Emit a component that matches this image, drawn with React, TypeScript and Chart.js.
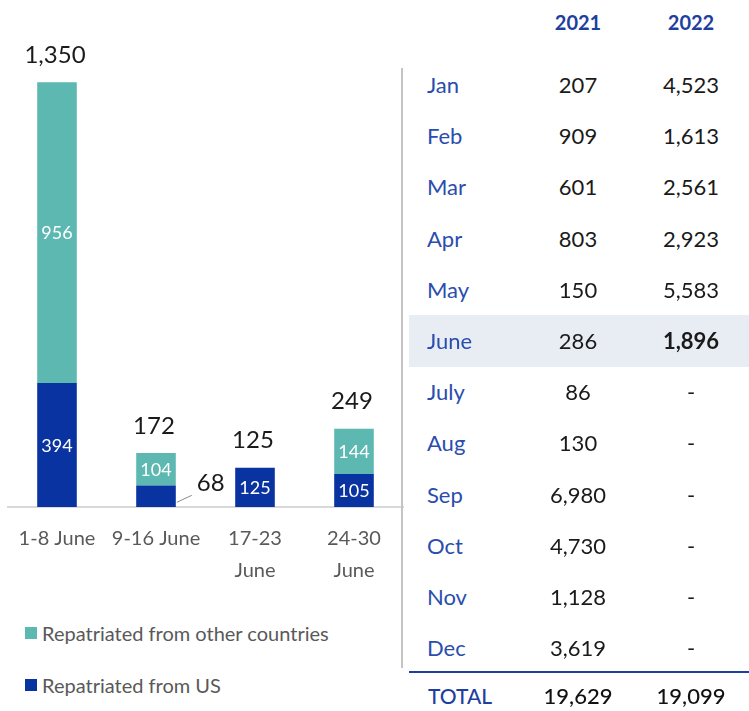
import React, { useEffect, useRef } from "react";
import { Chart, registerables } from "chart.js";

Chart.register(...registerables);

const categories: string[][] = [["1-8 June"], ["9-16 June"], ["17-23", "June"], ["24-30", "June"]];
const fromUS: number[] = [394, 68, 125, 105];
const fromOther: number[] = [956, 104, 0, 144];
const totals: number[] = [1350, 172, 125, 249];

const months: string[] = ["Jan", "Feb", "Mar", "Apr", "May", "June", "July", "Aug", "Sep", "Oct", "Nov", "Dec"];
const values2021: string[] = ["207", "909", "601", "803", "150", "286", "86", "130", "6,980", "4,730", "1,128", "3,619"];
const values2022: string[] = ["4,523", "1,613", "2,561", "2,923", "5,583", "1,896", "-", "-", "-", "-", "-", "-"];
const yearHeaders: string[] = ["2021", "2022"];
const totalLabel = "TOTAL";
const totalValues: string[] = ["19,629", "19,099"];
const highlightMonth = "June";

const TEAL = "#5DB8B2";
const BLUE = "#0833A0";
const FONT = "Lato, 'Open Sans', sans-serif";

const labelPlugin = {
  id: "barLabels",
  afterDatasetsDraw(chart: any) {
    const ctx = chart.ctx;
    ctx.save();
    const metas = chart.data.datasets.map((_: any, i: number) => chart.getDatasetMeta(i));
    metas.forEach((meta: any, di: number) => {
      const data = chart.data.datasets[di].data as number[];
      meta.data.forEach((bar: any, i: number) => {
        const v = data[i];
        if (!v) return;
        const top = Math.min(bar.y, bar.base);
        const bottom = Math.max(bar.y, bar.base);
        const h = bottom - top;
        const cy = (top + bottom) / 2;
        if (h >= 25) {
          ctx.fillStyle = "#ffffff";
          ctx.font = `18px ${FONT}`;
          ctx.textAlign = "center";
          ctx.textBaseline = "middle";
          ctx.fillText(String(v), bar.x, cy + 1);
        } else {
          const right = bar.x + bar.width / 2;
          ctx.strokeStyle = "#8c8c8c";
          ctx.lineWidth = 1;
          ctx.beginPath();
          ctx.moveTo(right + 1, cy + 6);
          ctx.lineTo(right + 16, cy - 1);
          ctx.stroke();
          ctx.fillStyle = "#1a1a1a";
          ctx.font = `24px ${FONT}`;
          ctx.textAlign = "left";
          ctx.textBaseline = "middle";
          ctx.fillText(String(v), right + 21, cy - 13);
        }
      });
    });
    const first = metas[0];
    first.data.forEach((bar: any, i: number) => {
      let top = Infinity;
      metas.forEach((m: any) => {
        const b = m.data[i];
        top = Math.min(top, b.y, b.base);
      });
      ctx.fillStyle = "#1a1a1a";
      ctx.font = `24px ${FONT}`;
      ctx.textAlign = "center";
      ctx.textBaseline = "middle";
      ctx.fillText(totals[i].toLocaleString("en-US"), bar.x - 2, top - 27);
    });
    ctx.restore();
  },
};

function BarChart() {
  const ref = useRef<HTMLCanvasElement>(null);
  useEffect(() => {
    if (!ref.current) return;
    const chart = new Chart(ref.current, {
      type: "bar",
      data: {
        labels: categories as any,
        datasets: [
          { label: "Repatriated from US", data: fromUS, backgroundColor: BLUE, barPercentage: 0.4, categoryPercentage: 1 },
          { label: "Repatriated from other countries", data: fromOther, backgroundColor: TEAL, barPercentage: 0.4, categoryPercentage: 1 },
        ],
      },
      options: {
        animation: false,
        responsive: true,
        maintainAspectRatio: false,
        layout: { padding: { left: 7.5, right: 6.5, top: 35, bottom: 10 } },
        plugins: { legend: { display: false }, tooltip: { enabled: false } },
        scales: {
          x: {
            stacked: true,
            grid: { display: false, drawTicks: false },
            border: { display: true, color: "#d9d9d9", width: 2 },
            ticks: {
              color: "#595959",
              font: { family: FONT, size: 20, lineHeight: 1.6 },
              padding: 16,
              maxRotation: 0,
              autoSkip: false,
            },
          },
          y: { stacked: true, display: false, min: 0, max: 1500 },
        },
      },
      plugins: [labelPlugin],
    });
    return () => chart.destroy();
  }, []);
  return (
    <div style={{ position: "absolute", left: 0, top: 0, width: 410, height: 613 }}>
      <canvas ref={ref} />
    </div>
  );
}

function Legend() {
  const items = [
    { label: "Repatriated from other countries", color: TEAL },
    { label: "Repatriated from US", color: BLUE },
  ];
  return (
    <>
      {items.map((it, i) => (
        <div
          key={it.label}
          style={{
            position: "absolute",
            left: 25,
            top: 633 + i * 52 - 15,
            height: 30,
            lineHeight: "30px",
            display: "flex",
            alignItems: "center",
            fontFamily: FONT,
            fontSize: 20,
            color: "#595959",
            whiteSpace: "nowrap",
          }}
        >
          <span style={{ display: "inline-block", width: 12, height: 12, background: it.color, marginRight: 5 }} />
          {it.label}
        </div>
      ))}
    </>
  );
}

function Table() {
  const rowH = 51.2;
  const firstCenter = 85;
  const col1 = 578;
  const col2 = 691;
  const cell = (text: string, center: number, cx: number, style: any, key: string, align: "center" | "left" = "center") => (
    <div
      key={key}
      style={{
        position: "absolute",
        top: center - 20,
        height: 40,
        lineHeight: "40px",
        left: align === "center" ? cx - 60 : cx,
        width: 120,
        textAlign: align,
        whiteSpace: "nowrap",
        fontFamily: FONT,
        ...style,
      }}
    >
      {text}
    </div>
  );
  const hi = months.indexOf(highlightMonth);
  const totalCenter = 696;
  return (
    <>
      <div style={{ position: "absolute", left: 409, width: 340, top: firstCenter + hi * rowH - 26, height: 52, background: "#E8ECF3" }} />
      <div style={{ position: "absolute", left: 401, width: 2, top: 68, height: 600, background: "#c4c4c4" }} />
      <div style={{ position: "absolute", left: 409, width: 340, top: 671, height: 1.5, background: "#1F3F9F" }} />
      {yearHeaders.map((y, j) =>
        cell(y, 22, j === 0 ? col1 : col2, { fontSize: 20, fontWeight: 700, color: "#1F3F9F" }, "h" + j)
      )}
      {months.map((m, i) => {
        const c = firstCenter + i * rowH;
        return (
          <React.Fragment key={m}>
            {cell(m, c, 427, { fontSize: 22, color: "#2A4DAE" }, "m" + i, "left")}
            {cell(values2021[i], c, col1, { fontSize: 22, color: "#1a1a1a" }, "a" + i)}
            {cell(values2022[i], c, col2, { fontSize: 22, color: "#1a1a1a", fontWeight: i === hi ? 700 : 400 }, "b" + i)}
          </React.Fragment>
        );
      })}
      {cell(totalLabel, totalCenter, 428, { fontSize: 21, color: "#1F3F9F", fontWeight: 500 }, "tl", "left")}
      {cell(totalValues[0], totalCenter, col1, { fontSize: 22, color: "#111", fontWeight: 500 }, "t1")}
      {cell(totalValues[1], totalCenter, col2, { fontSize: 22, color: "#111", fontWeight: 500 }, "t2")}
    </>
  );
}

export default function App() {
  return (
    <div style={{ position: "absolute", left: 0, top: 0, width: 749, height: 711, background: "#fff", overflow: "hidden" }}>
      <BarChart />
      <Legend />
      <Table />
    </div>
  );
}
